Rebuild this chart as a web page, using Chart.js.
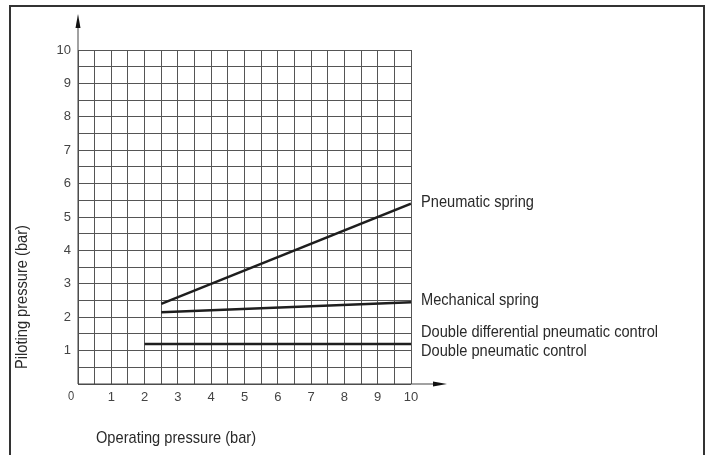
<!DOCTYPE html>
<html>
<head>
<meta charset="utf-8">
<script src="https://cdn.jsdelivr.net/npm/chart.js@4/dist/chart.umd.min.js"></script>
<style>
  html, body { margin: 0; padding: 0; background: #fff; }
  canvas { display: block; }
</style>
</head>
<body>
<canvas id="chart" width="710" height="455"></canvas>
<script>
// Datos (bar)
const pneumaticSpringX = [2.5, 10];
const pneumaticSpringY = [2.4, 5.4];
const mechanicalSpringX = [2.5, 10];
const mechanicalSpringY = [2.15, 2.45];
const doublePneumaticX = [2, 10];
const doublePneumaticY = [1.2, 1.2];

const seriesNames = ['Pneumatic spring', 'Mechanical spring', 'Double differential pneumatic control', 'Double pneumatic control'];
const xTitle = 'Operating pressure (bar)';
const yTitle = 'Piloting pressure (bar)';
const axisMin = 0;
const axisMax = 10;
const gridStep = 0.5;

const FONT = '"Liberation Sans", Arial, sans-serif';
const NARROW = 0.86; // texto condensado como en el original

function toPoints(xs, ys) {
    return xs.map(function(x, i) { return { x: x, y: ys[i] }; });
}

function lineDataset(xs, ys) {
    return {
        data: toPoints(xs, ys),
        showLine: true,
        borderColor: '#1e1e1e',
        borderWidth: 2.5,
        pointRadius: 0,
        fill: false,
        tension: 0
    };
}

function narrowText(ctx, text, x, y, angle) {
    ctx.save();
    ctx.translate(x, y);
    if (angle) ctx.rotate(angle);
    ctx.scale(NARROW, 1);
    ctx.fillText(text, 0, 0);
    ctx.restore();
}

// marco, ejes con flechas, títulos y etiquetas de series
const decorations = {
    id: 'decorations',
    afterDraw(chart) {
        const ctx = chart.ctx;
        const xs = chart.scales.x;
        const ys = chart.scales.y;
        const x0 = xs.getPixelForValue(0);
        const y0 = ys.getPixelForValue(0);

        ctx.save();
        // marco exterior
        ctx.strokeStyle = '#333';
        ctx.lineWidth = 2;
        ctx.beginPath();
        ctx.moveTo(10, 460);
        ctx.lineTo(10, 6);
        ctx.lineTo(704, 6);
        ctx.lineTo(704, 460);
        ctx.stroke();

        // ejes
        ctx.strokeStyle = '#444';
        ctx.lineWidth = 1;
        ctx.beginPath();
        ctx.moveTo(x0, y0);
        ctx.lineTo(x0, 22);
        ctx.moveTo(x0, y0);
        ctx.lineTo(440, y0);
        ctx.stroke();
        ctx.fillStyle = '#111';
        ctx.beginPath();
        ctx.moveTo(x0, 14);
        ctx.lineTo(x0 - 2.5, 28);
        ctx.lineTo(x0 + 2.5, 28);
        ctx.closePath();
        ctx.fill();
        ctx.beginPath();
        ctx.moveTo(447, y0);
        ctx.lineTo(433, y0 - 2.5);
        ctx.lineTo(433, y0 + 2.5);
        ctx.closePath();
        ctx.fill();

        // textos
        ctx.fillStyle = '#444';
        ctx.font = '13px ' + FONT;
        ctx.textAlign = 'center';
        ctx.textBaseline = 'middle';
        narrowText(ctx, '0', 71, 396);

        ctx.fillStyle = '#2a2a2a';
        ctx.font = '17px ' + FONT;
        ctx.textAlign = 'left';
        narrowText(ctx, xTitle, 96, 438);

        ctx.textAlign = 'center';
        narrowText(ctx, yTitle, 22, 297, -Math.PI / 2);

        ctx.textAlign = 'left';
        const labelY = [5.45, 2.5, 1.55, 0.98];
        seriesNames.forEach(function(name, i) {
            narrowText(ctx, name, 421, ys.getPixelForValue(labelY[i]));
        });
        ctx.restore();
    }
};

const tickFont = { family: '"Liberation Sans", Arial, sans-serif', size: 13 };

const ctx = document.getElementById('chart').getContext('2d');
new Chart(ctx, {
    type: 'scatter',
    data: {
        datasets: [
            lineDataset(pneumaticSpringX, pneumaticSpringY),
            lineDataset(mechanicalSpringX, mechanicalSpringY),
            lineDataset(doublePneumaticX, doublePneumaticY)
        ]
    },
    options: {
        responsive: false,
        animation: false,
        layout: { padding: { left: 0, top: 50, right: 299, bottom: 41 } },
        plugins: { legend: { display: false }, tooltip: { enabled: false } },
        scales: {
            x: {
                type: 'linear',
                min: axisMin,
                max: axisMax,
                afterFit: function(s) { s.height = 30; },
                border: { display: false },
                grid: { color: '#555', lineWidth: 1, drawTicks: false },
                ticks: {
                    stepSize: gridStep,
                    autoSkip: false,
                    maxRotation: 0,
                    padding: 6,
                    color: '#444',
                    font: tickFont,
                    callback: function(v) { return (v > 0 && Number.isInteger(v)) ? String(v) : ''; }
                }
            },
            y: {
                type: 'linear',
                min: axisMin,
                max: axisMax,
                afterFit: function(s) { s.width = 78; },
                border: { display: false },
                grid: { color: '#555', lineWidth: 1, drawTicks: false },
                ticks: {
                    stepSize: gridStep,
                    autoSkip: false,
                    padding: 7,
                    color: '#444',
                    font: tickFont,
                    callback: function(v) { return (v > 0 && Number.isInteger(v)) ? String(v) : ''; }
                }
            }
        }
    },
    plugins: [decorations]
});
</script>
</body>
</html>
